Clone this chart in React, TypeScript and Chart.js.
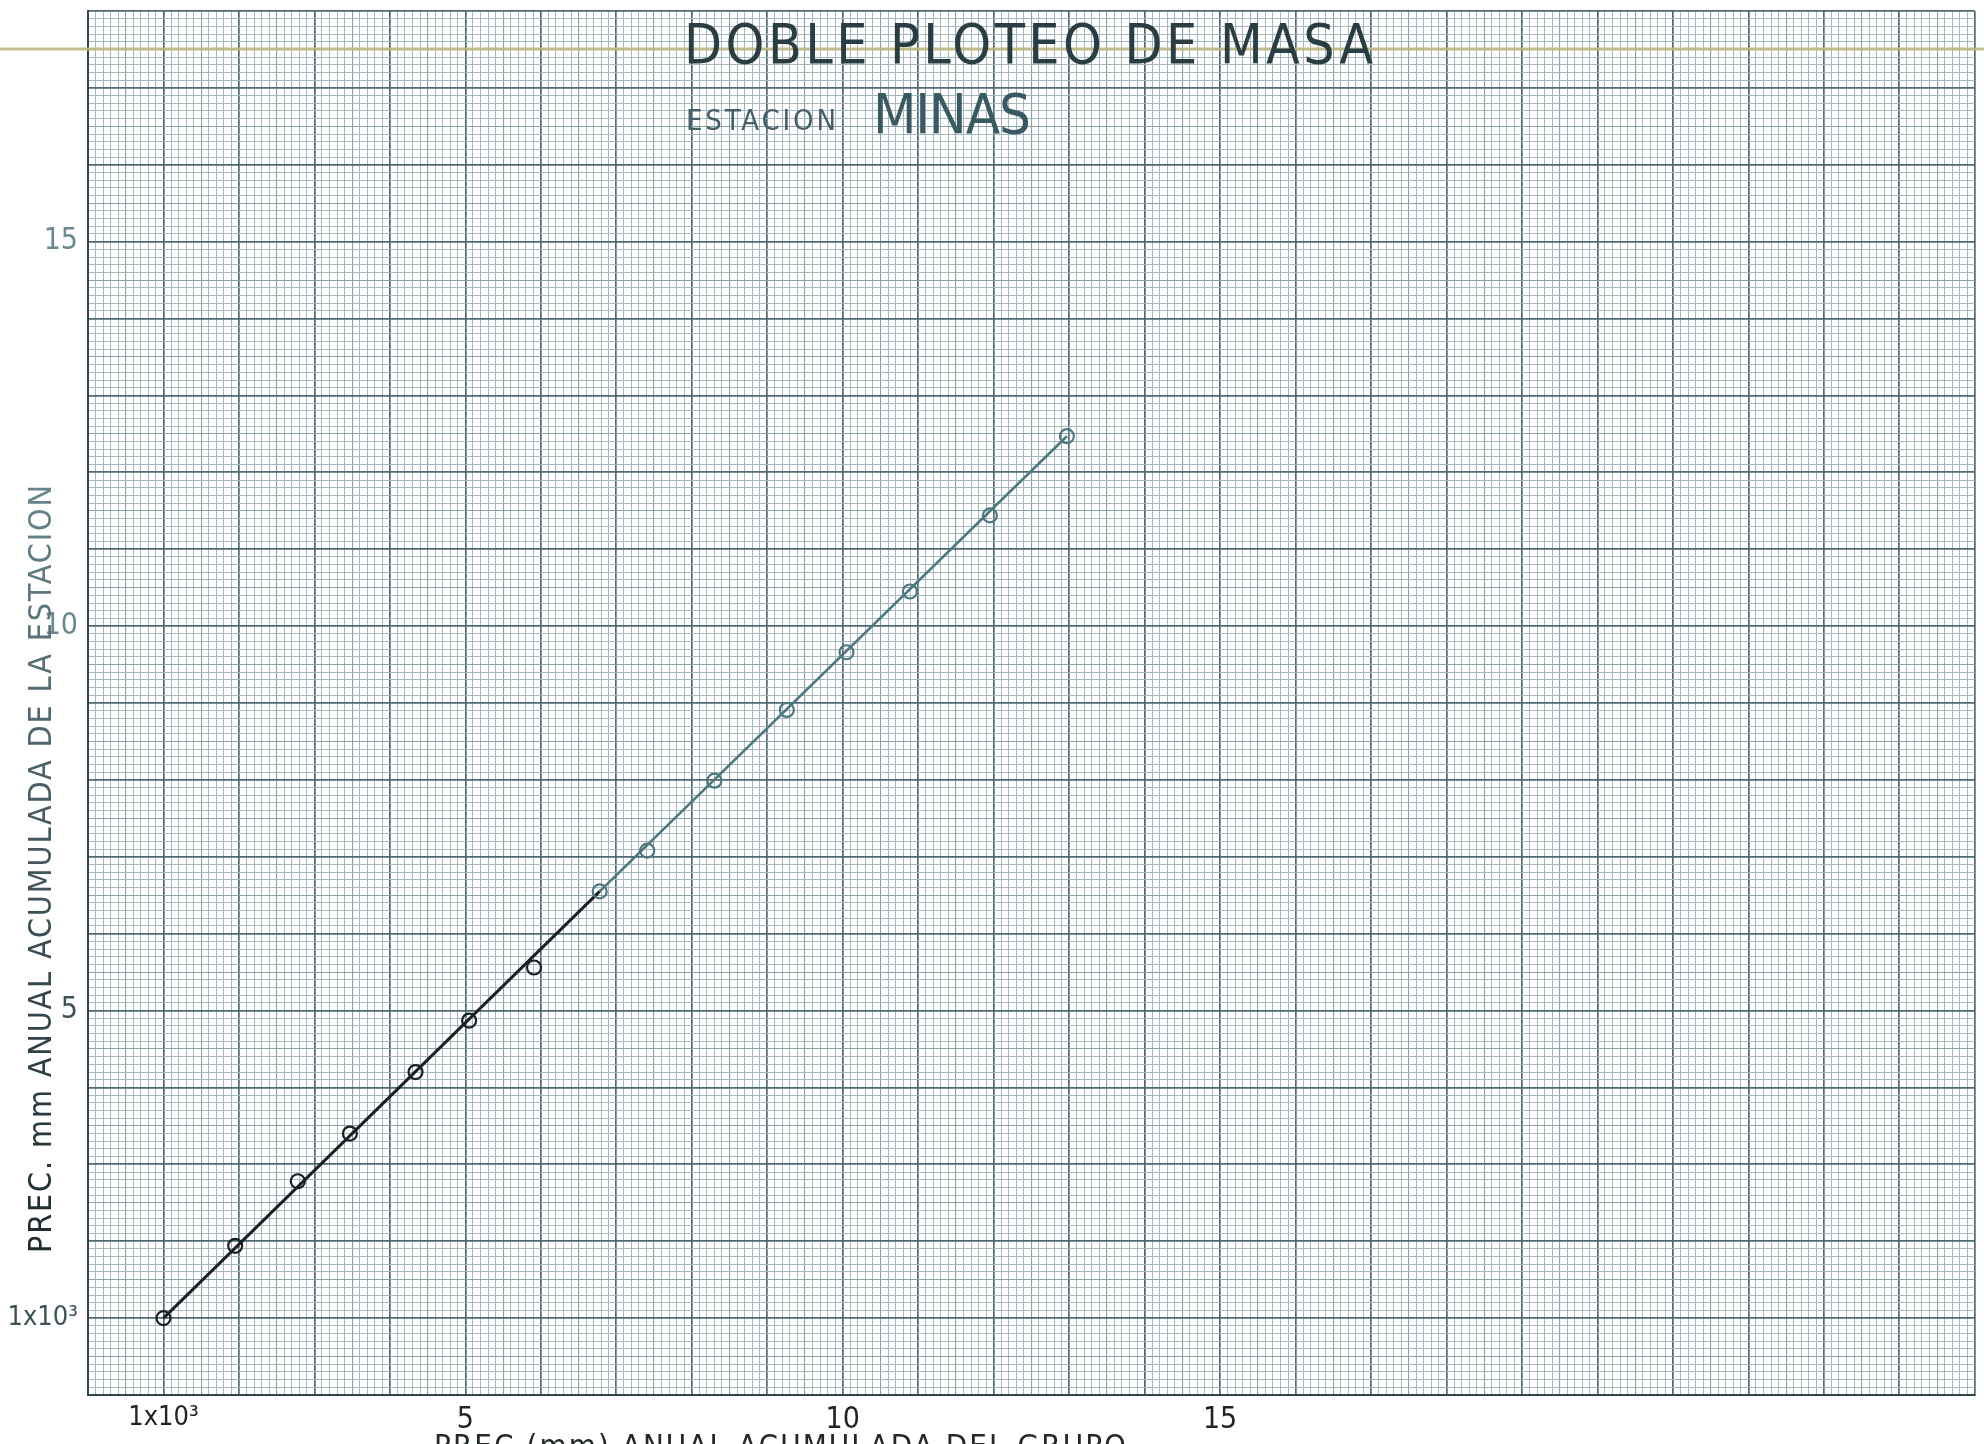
import React, { useEffect, useRef } from 'react';
import { Chart, registerables } from 'chart.js';

Chart.register(...registerables);

// Accumulated annual precipitation (x 10^3 mm): group (x) vs station (y)
const groupAccum = [1.0, 1.95, 2.78, 3.47, 4.34, 5.05, 5.91, 6.78, 7.41, 8.30, 9.26, 10.05, 10.89, 11.95, 12.97];
const stationAccum = [1.0, 1.94, 2.78, 3.40, 4.20, 4.87, 5.56, 6.55, 7.08, 7.99, 8.91, 9.66, 10.45, 11.44, 12.47];

// hand-ruled line drawn through the points (vertices where the ink changes)
const traceX = [1.0, 6.78, 12.97];
const traceY = [1.0, 6.55, 12.47];

const xTickValues = [1, 5, 10, 15];
const xTickTexts = ['1x10³', '5', '10', '15'];
const yTickValues = [1, 5, 10, 15];
const yTickTexts = ['1x10³', '5', '10', '15'];

const xRange = [0, 25];
const yRange = [0, 18];

const TITLE = 'DOBLE PLOTEO DE MASA';
const STATION_LABEL = 'ESTACION';
const STATION_NAME = 'MINAS';
const X_TITLE = 'PREC (mm) ANUAL ACUMULADA DEL GRUPO';
const Y_TITLE = 'PREC. mm ANUAL ACUMULADA DE LA ESTACION';

const CONDENSED = '"DejaVu Sans Condensed", "DejaVu Sans", sans-serif';

const gridKind = (v: number) => {
  const r = Math.round(v * 10);
  if (r % 10 === 0) return 2;
  if (r % 5 === 0) return 1;
  return 0;
};
const gridColors = ['#a6b8bc', '#8ba1a6', '#4f6a71'];
const gridWidths = [1, 1.1, 1.7];

const findTick = (vals: number[], v: number) => vals.findIndex((t) => Math.abs(t - v) < 1e-6);
const labelFor = (vals: number[], texts: string[]) => (value: any) => {
  const i = findTick(vals, Number(value));
  return i >= 0 ? texts[i] : '';
};
const fontFor = (vals: number[], texts: string[]) => (c: any) => {
  const i = c.tick ? findTick(vals, c.tick.value) : -1;
  const long = i >= 0 && texts[i].length > 3;
  return { family: CONDENSED, size: long ? 27 : 30 };
};

function drawFitted(
  ctx: CanvasRenderingContext2D,
  text: string,
  x: number,
  y: number,
  width: number,
  font: string,
  color: string | CanvasGradient
) {
  ctx.font = font;
  ctx.fillStyle = color;
  ctx.textAlign = 'left';
  ctx.textBaseline = 'alphabetic';
  const anyCtx = ctx as any;
  if ('letterSpacing' in anyCtx) {
    anyCtx.letterSpacing = '0px';
    const w = ctx.measureText(text).width;
    const ls = (width - w) / Math.max(1, text.length - 1);
    anyCtx.letterSpacing = ls + 'px';
    ctx.fillText(text, x, y);
    anyCtx.letterSpacing = '0px';
  } else {
    const w = ctx.measureText(text).width;
    ctx.save();
    ctx.translate(x, y);
    ctx.scale(width / w, 1);
    ctx.fillText(text, 0, 0);
    ctx.restore();
  }
}

const paperPlugin = {
  id: 'paper',
  beforeDraw(chart: any) {
    const ctx = chart.ctx as CanvasRenderingContext2D;
    ctx.save();
    ctx.fillStyle = '#ffffff';
    ctx.fillRect(0, 0, chart.width, chart.height);
    ctx.restore();
  },
  afterDraw(chart: any) {
    const ctx = chart.ctx as CanvasRenderingContext2D;
    ctx.save();
    // scanner streak across the sheet
    ctx.strokeStyle = 'rgba(190, 184, 128, 0.9)';
    ctx.lineWidth = 3;
    ctx.beginPath();
    ctx.moveTo(0, 49);
    ctx.lineTo(chart.width, 49);
    ctx.stroke();

    drawFitted(ctx, TITLE, 684, 63, 689, '55px ' + CONDENSED, '#2a3d43');
    drawFitted(ctx, STATION_LABEL, 686, 130, 150, '29px ' + CONDENSED, '#46606a');
    drawFitted(ctx, STATION_NAME, 873, 133, 158, '56px ' + CONDENSED, '#3a5a63');

    drawFitted(ctx, X_TITLE, 434, 1456, 692, '31px ' + CONDENSED, '#23292b');

    ctx.save();
    ctx.translate(51, 1253);
    ctx.rotate(-Math.PI / 2);
    const g = ctx.createLinearGradient(0, 0, 768, 0);
    g.addColorStop(0, '#1f2a2d');
    g.addColorStop(0.45, '#3d5157');
    g.addColorStop(1, '#6a858c');
    drawFitted(ctx, Y_TITLE, 0, 0, 768, '32px ' + CONDENSED, g);
    ctx.restore();

    ctx.restore();
  },
};

export default function App() {
  const canvasRef = useRef<HTMLCanvasElement | null>(null);

  useEffect(() => {
    const canvas = canvasRef.current;
    if (!canvas) return;
    const darkInk = '#1b2123';
    const tealInk = '#4d7882';
    const chart = new Chart(canvas, {
      type: 'scatter',
      data: {
        datasets: [
          {
            label: 'Trazo',
            data: traceX.map((x, i) => ({ x, y: traceY[i] })),
            showLine: true,
            borderColor: darkInk,
            borderWidth: 3,
            segment: {
              borderColor: (c: any) => (c.p0DataIndex < 1 ? darkInk : tealInk),
              borderWidth: (c: any) => (c.p0DataIndex < 1 ? 3 : 2.6),
            },
            pointRadius: 0,
            pointHoverRadius: 0,
            order: 2,
          } as any,
          {
            label: 'Doble masa',
            data: groupAccum.map((x, i) => ({ x, y: stationAccum[i] })),
            showLine: false,
            pointRadius: 7,
            pointHoverRadius: 7,
            pointBorderWidth: 2.2,
            pointBackgroundColor: 'rgba(255,255,255,0)',
            pointBorderColor: groupAccum.map((_, i) => (i < 7 ? darkInk : tealInk)),
            order: 1,
          } as any,
        ],
      },
      options: {
        animation: false,
        responsive: false,
        devicePixelRatio: 1,
        layout: { padding: { left: 0, right: 8, top: 11, bottom: 0 } },
        plugins: {
          legend: { display: false },
          tooltip: { enabled: false },
          title: { display: false },
        },
        scales: {
          x: {
            type: 'linear',
            min: xRange[0],
            max: xRange[1],
            afterFit: (scale: any) => {
              scale.height = 49;
              scale.paddingLeft = 0;
              scale.paddingRight = 0;
            },
            border: { display: true, color: '#2f464c', width: 2 },
            grid: {
              drawTicks: false,
              color: (c: any) => gridColors[gridKind(c.tick ? c.tick.value : 0)],
              lineWidth: (c: any) => gridWidths[gridKind(c.tick ? c.tick.value : 0)],
            },
            ticks: {
              stepSize: 0.1,
              maxTicksLimit: 1000,
              autoSkip: false,
              maxRotation: 0,
              minRotation: 0,
              padding: 7,
              color: '#202426',
              font: fontFor(xTickValues, xTickTexts),
              callback: labelFor(xTickValues, xTickTexts),
            },
          },
          y: {
            type: 'linear',
            min: yRange[0],
            max: yRange[1],
            afterFit: (scale: any) => {
              scale.width = 88;
              scale.paddingTop = 0;
              scale.paddingBottom = 0;
            },
            border: { display: true, color: '#2f464c', width: 2 },
            grid: {
              drawTicks: false,
              color: (c: any) => gridColors[gridKind(c.tick ? c.tick.value : 0)],
              lineWidth: (c: any) => gridWidths[gridKind(c.tick ? c.tick.value : 0)],
            },
            ticks: {
              stepSize: 0.1,
              maxTicksLimit: 1000,
              autoSkip: false,
              padding: 10,
              color: (c: any) => (c.tick && c.tick.value > 7 ? '#6a8890' : '#3e5156'),
              font: fontFor(yTickValues, yTickTexts),
              callback: labelFor(yTickValues, yTickTexts),
            },
          },
        },
      } as any,
      plugins: [paperPlugin],
    });
    return () => chart.destroy();
  }, []);

  return (
    <div style={{ position: 'fixed', left: 0, top: 0, width: 1984, height: 1444, background: '#fff' }}>
      <canvas ref={canvasRef} width={1984} height={1444} style={{ display: 'block', width: 1984, height: 1444 }} />
    </div>
  );
}
